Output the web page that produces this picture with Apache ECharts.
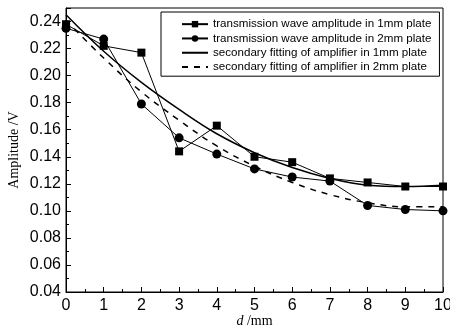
<!DOCTYPE html>
<html><head><meta charset="utf-8">
<script src="https://cdn.jsdelivr.net/npm/echarts@6/dist/echarts.min.js"></script>
<style>html,body{margin:0;padding:0;background:#fff}#c{width:450px;height:328px}</style>
</head><body><div id="c"></div>
<script>
var distances = [0,1,2,3,4,5,6,7,8,9,10];
var amp1mm = [0.238,0.222,0.217,0.144,0.163,0.140,0.136,0.124,0.121,0.118,0.118];
var amp2mm = [0.235,0.227,0.179,0.154,0.142,0.131,0.125,0.122,0.104,0.101,0.100];
var fit1mm = [0.245,0.218,0.195,0.175,0.157,0.143,0.132,0.124,0.119,0.118,0.119];
var fit2mm = [0.241,0.213,0.188,0.167,0.148,0.133,0.121,0.112,0.106,0.103,0.103];
var seriesNames = [
  'transmission wave amplitude in 1mm plate',
  'transmission wave amplitude in 2mm plate',
  'secondary fitting of amplifier in 1mm plate',
  'secondary fitting of amplifier in 2mm plate'
];
function pairs(xs, ys){ return xs.map(function(x,i){ return [x, ys[i]]; }); }
var chart = echarts.init(document.getElementById('c'), null, {renderer:'canvas'});
var axisFont = {fontFamily:'Liberation Sans, Arial', fontSize:16, color:'#000'};
var hiddenSym = {color:'rgba(0,0,0,0)', borderWidth:0, opacity:0};
chart.setOption({
  animation:false,
  backgroundColor:'#fff',
  grid:{left:66,right:7,top:8,bottom:36,show:true,borderColor:'#000',borderWidth:1,backgroundColor:'transparent',
        containLabel:false, outerBoundsMode:'none'},
  legend:{
    orient:'vertical', left:161, top:12,
    borderColor:'#000', borderWidth:1, padding:[5,8,2,20],
    itemWidth:26, itemHeight:8, itemGap:0,
    textStyle:{fontFamily:'Liberation Sans, Arial', fontSize:11.6, lineHeight:14.3, color:'#000'},
    data:[
      {name:seriesNames[0]},
      {name:seriesNames[1]},
      {name:seriesNames[2], itemStyle:hiddenSym},
      {name:seriesNames[3], itemStyle:hiddenSym}
    ]
  },
  xAxis:{
    type:'value', min:0, max:10, interval:1,
    name:'{i|d} /mm', nameLocation:'middle', nameGap:22, nameMoveOverlap:false,
    nameTextStyle:{fontFamily:'Liberation Serif', fontSize:14, color:'#000', verticalAlign:'top',
      rich:{i:{fontFamily:'Liberation Serif', fontStyle:'italic', fontSize:14, color:'#000'}}},
    axisLine:{show:true,onZero:false,lineStyle:{color:'#000',width:1}},
    axisTick:{show:true,inside:true,length:5,lineStyle:{color:'#000'}},
    minorTick:{show:true,splitNumber:2,length:3,lineStyle:{color:'#000'}},
    axisLabel:Object.assign({margin:6, hideOverlap:false},axisFont),
    splitLine:{show:false}
  },
  yAxis:{
    type:'value', min:0.04, max:0.25, interval:0.02,
    name:'Amplitude /V', nameLocation:'middle', nameGap:45, nameMoveOverlap:false,
    nameTextStyle:{fontFamily:'Liberation Serif', fontSize:14, color:'#000'},
    axisLine:{show:true,onZero:false,lineStyle:{color:'#000',width:1}},
    axisTick:{show:true,inside:true,length:5,lineStyle:{color:'#000'}},
    minorTick:{show:true,splitNumber:2,length:3,lineStyle:{color:'#000'}},
    axisLabel:Object.assign({margin:5,showMaxLabel:false,formatter:function(v){return v.toFixed(2);}},axisFont),
    splitLine:{show:false}
  },
  series:[
    {name:seriesNames[0],type:'line',data:pairs(distances,amp1mm),symbol:'rect',symbolSize:8,
     itemStyle:{color:'#000'},lineStyle:{color:'#000',width:1},z:5},
    {name:seriesNames[1],type:'line',data:pairs(distances,amp2mm),symbol:'circle',symbolSize:9,
     itemStyle:{color:'#000'},lineStyle:{color:'#000',width:1},z:5},
    {name:seriesNames[2],type:'line',data:pairs(distances,fit1mm),symbol:'none',smooth:0.4,
     itemStyle:{color:'#000'},lineStyle:{color:'#000',width:1.5},z:3},
    {name:seriesNames[3],type:'line',data:pairs(distances,fit2mm),symbol:'none',smooth:0.4,
     itemStyle:{color:'#000'},lineStyle:{color:'#000',width:1.5,type:[6,6]},z:3}
  ]
});
</script></body></html>
